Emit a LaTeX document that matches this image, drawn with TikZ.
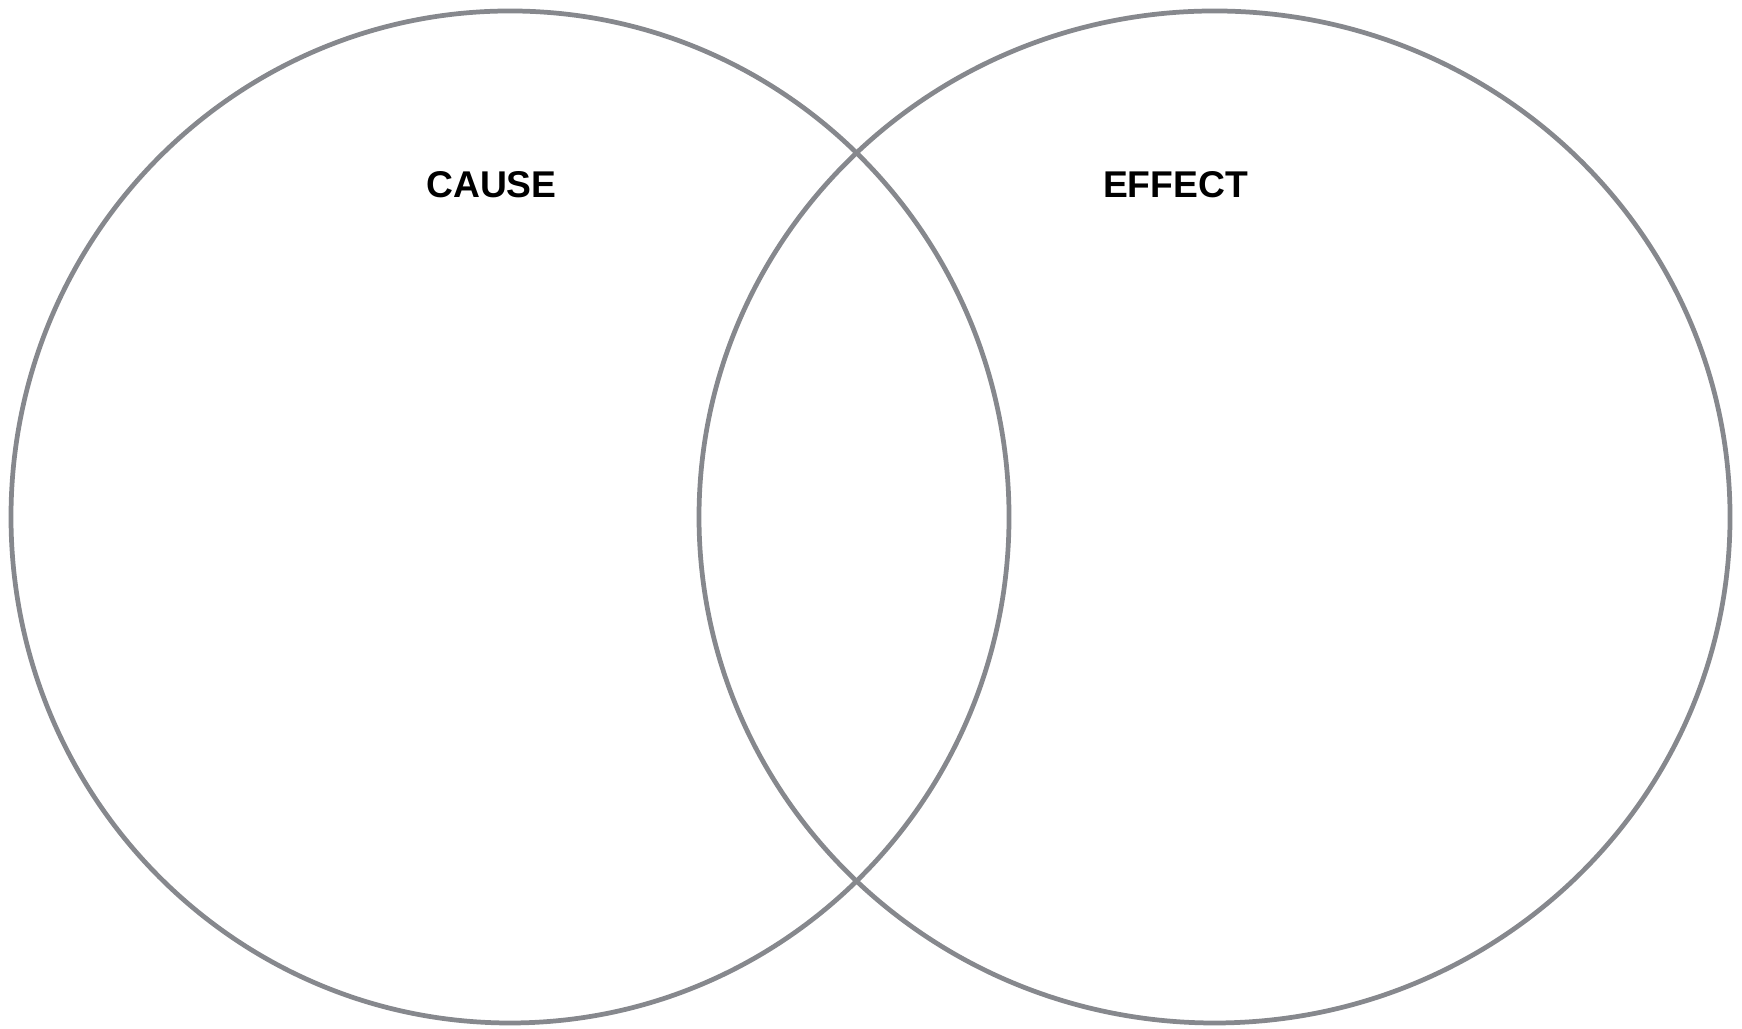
\documentclass[tikz,border=0pt]{standalone}
\usepackage{fontspec}
\setmainfont{Liberation Sans}
\usetikzlibrary{shapes.geometric}
\definecolor{c1}{HTML}{000000}
\definecolor{c2}{HTML}{86888D}

\begin{document}
\begin{tikzpicture}[
    every node/.style={font=\rmfamily},
    ring/.style={ellipse, draw=c2, line width=1.35pt, inner sep=0pt},
    head/.style={font=\rmfamily\bfseries\fontsize{10.6}{12}\selectfont, text=c1, inner sep=0pt},
]
\useasboundingbox (0, 0) rectangle (17.42, 10.29);

% ================================================================ the two rings
\node[ring, minimum width=9.98cm, minimum height=10.12cm] (cause) at (5.10, 5.12) {};
\node[ring, minimum width=10.31cm, minimum height=10.12cm] (effect) at (12.145, 5.12) {};

% ================================================================ titles
\node[head] (causelab) at (4.915, 8.44) {CAUSE};
\node[head] (effectlab) at (11.755, 8.44) {EFFECT};

\end{tikzpicture}
\end{document}
